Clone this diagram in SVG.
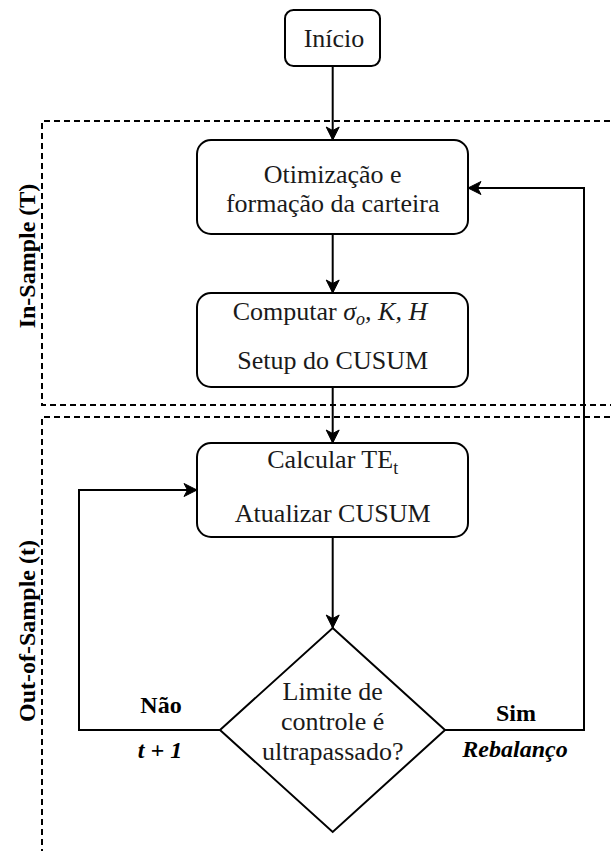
<svg xmlns="http://www.w3.org/2000/svg" width="611" height="851" viewBox="0 0 611 851">
<style>
.box{fill:#fff;stroke:#000;stroke-width:2}
.dash{fill:none;stroke:#000;stroke-width:2;stroke-dasharray:6 4}
.edge{fill:none;stroke:#000;stroke-width:2}
.nt{font-family:"Liberation Serif",serif;font-size:26px;fill:#1a1a1a;text-anchor:middle}
.lbl{font-family:"Liberation Serif",serif;font-size:24px;font-weight:bold;fill:#000;text-anchor:middle}
.it{font-style:italic}
</style>
<defs>
<marker id="arr" markerUnits="userSpaceOnUse" markerWidth="16" markerHeight="16" refX="0" refY="0" viewBox="-14 -8 16 16" orient="auto">
<path d="M0,0 L-13,-6.5 L-9.5,0 L-13,6.5 Z" fill="#000" stroke="#000" stroke-width="1"/>
</marker>
</defs>
<g id="regions">
<path class="dash" d="M620,121 H42 V405 H620"/>
<path class="dash" d="M620,417 H42 V860"/>
<text class="lbl" transform="translate(35,256) rotate(-90)">In-Sample (T)</text>
<text class="lbl" transform="translate(35,631) rotate(-90)">Out-of-Sample (t)</text>
</g>
<g id="connectors">
<path class="edge" d="M332.7,66 V140" marker-end="url(#arr)"/>
<path class="edge" d="M332.7,234 V293" marker-end="url(#arr)"/>
<path class="edge" d="M332.7,387 V443" marker-end="url(#arr)"/>
<path class="edge" d="M332.7,537 V628" marker-end="url(#arr)"/>
<path class="edge" d="M220,730 H79 V490 H197" marker-end="url(#arr)"/>
<path class="edge" d="M445,730 H584 V188 H468" marker-end="url(#arr)"/>
<text class="lbl" x="161" y="713">Não</text>
<text class="lbl it" x="160" y="758">t + 1</text>
<text class="lbl" x="516" y="721">Sim</text>
<text class="lbl it" x="515" y="757">Rebalanço</text>
</g>
<g id="inicio">
<rect class="box" x="285" y="10" width="95" height="56" rx="8.5"/>
<text class="nt" x="334" y="47">Início</text>
</g>
<g id="otimizacao">
<rect class="box" x="197" y="140" width="271" height="94" rx="14"/>
<text class="nt" x="332.7" y="183">Otimização e</text>
<text class="nt" x="332.7" y="212">formação da carteira</text>
</g>
<g id="computar">
<rect class="box" x="197" y="293" width="271" height="94" rx="14"/>
<text class="nt" x="330" y="320">Computar <tspan class="it">σ<tspan font-size="18" dy="5">o</tspan><tspan dy="-5">, K, H</tspan></tspan></text>
<text class="nt" x="332.7" y="369">Setup do CUSUM</text>
</g>
<g id="calcular">
<rect class="box" x="197" y="443" width="271" height="94" rx="14"/>
<text class="nt" x="332.7" y="467.7">Calcular TE<tspan font-size="18" dy="6">t</tspan></text>
<text class="nt" x="332.7" y="521.7">Atualizar CUSUM</text>
</g>
<g id="decisao">
<path class="box" d="M332.7,628 L445,730 L332.7,832 L220,730 Z"/>
<text class="nt" x="332.7" y="700">Limite de</text>
<text class="nt" x="332.7" y="730">controle é</text>
<text class="nt" x="332.7" y="760">ultrapassado?</text>
</g>
</svg>
